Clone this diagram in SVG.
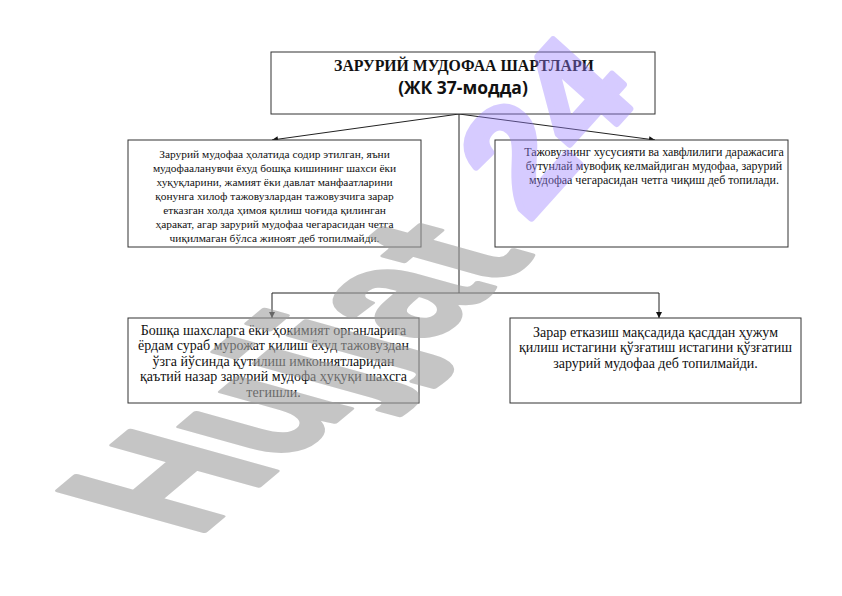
<svg xmlns="http://www.w3.org/2000/svg" width="842" height="596" viewBox="0 0 842 596">
<style>
.box{fill:#ffffff;stroke:#333333;stroke-width:1}
.t{font-family:"Liberation Serif","Times New Roman",serif;fill:#111111;text-anchor:middle}
.s1{font-size:11.4px}
.s3{font-size:12px}
.s2{font-size:14px}
.title{font-family:"Liberation Serif","Times New Roman",serif;font-weight:bold;font-size:15.8px;fill:#111;text-anchor:middle}
.sub{font-family:"Open Sans","Noto Sans",sans-serif;font-weight:bold;font-size:17.5px;fill:#111;text-anchor:middle}
.c{stroke:#222222;stroke-width:1;fill:none}
.wm{font-family:"Liberation Sans",Arial,sans-serif;font-weight:bold;stroke-linejoin:round}
.wg{fill:#a0a0a0;stroke:#a0a0a0;stroke-width:3;opacity:0.6;font-size:100px}
.wp{fill:#9a80ff;stroke:#9a80ff;stroke-width:7;opacity:0.4;font-size:150px}
</style>
<defs>
<marker id="ah" viewBox="0 0 10 10" refX="10" refY="5" markerWidth="6" markerHeight="6" orient="auto" markerUnits="userSpaceOnUse">
<path d="M0,0 L10,5 L0,10 z" fill="#111111"/>
</marker>
</defs>
<rect width="842" height="596" fill="#ffffff"/>
<g id="connectors">
<line class="c" x1="459" y1="114" x2="272" y2="140" marker-end="url(#ah)"/>
<line class="c" x1="459" y1="114" x2="655" y2="140" marker-end="url(#ah)"/>
<line class="c" x1="459" y1="114" x2="459" y2="293"/>
<line class="c" x1="272" y1="293" x2="659" y2="293"/>
<line class="c" x1="272" y1="293" x2="272" y2="318" marker-end="url(#ah)"/>
<line class="c" x1="659" y1="293" x2="659" y2="318" marker-end="url(#ah)"/>
</g>
<g id="node-top">
<rect class="box" x="271" y="52" width="384" height="62"/>
<text class="title" x="464" y="71">ЗАРУРИЙ МУДОФАА ШАРТЛАРИ</text>
<text class="sub" x="463" y="94">(ЖК 37-модда)</text>
</g>
<g id="node-left">
<rect class="box" x="128" y="140" width="293" height="107"/>
<text class="t s1" x="274.5" y="157.5">Зарурий мудофаа ҳолатида содир этилган, яъни</text>
<text class="t s1" x="274.5" y="171.5">мудофааланувчи ёхуд бошқа кишининг шахси ёки</text>
<text class="t s1" x="274.5" y="185.5">хуқуқларини, жамият ёки давлат манфаатларини</text>
<text class="t s1" x="274.5" y="200">қонунга хилоф тажовузлардан тажовузчига зарар</text>
<text class="t s1" x="274.5" y="214">етказган холда ҳимоя қилиш чоғида қилинган</text>
<text class="t s1" x="274.5" y="228">ҳаракат, агар зарурий мудофаа чегарасидан четга</text>
<text class="t s1" x="274.5" y="242">чиқилмаган бўлса жиноят деб топилмайди.</text>
</g>
<g id="node-right">
<rect class="box" x="495" y="140" width="293" height="107"/>
<text class="t s3" x="654" y="156">Тажовузнинг хусусияти ва хавфлилиги даражасига</text>
<text class="t s3" x="654" y="170">бутунлай мувофиқ келмайдиган мудофаа, зарурий</text>
<text class="t s3" x="654" y="184">мудофаа чегарасидан четга чиқиш деб топилади.</text>
</g>
<g id="node-bottom-left">
<rect class="box" x="128" y="318" width="291" height="85"/>
<text class="t s2" x="273.5" y="334.5">Бошқа шахсларга ёки ҳокимият органларига</text>
<text class="t s2" x="273.5" y="350">ёрдам сураб мурожат қилиш ёхуд тажовуздан</text>
<text class="t s2" x="273.5" y="365.5">ўзга йўсинда қутилиш имкониятларидан</text>
<text class="t s2" x="273.5" y="381">қаътий назар  зарурий мудофа ҳуқуқи шахсга</text>
<text class="t s2" x="273.5" y="397">тегишли.</text>
</g>
<g id="node-bottom-right">
<rect class="box" x="510" y="318" width="291" height="85"/>
<text class="t s2" x="655.5" y="336.5">Зарар етказиш мақсадида қасддан ҳужум</text>
<text class="t s2" x="655.5" y="352">қилиш истагини қўзғатиш истагини қўзғатиш</text>
<text class="t s2" x="655.5" y="368">зарурий мудофаа деб топилмайди.</text>
</g>
<g id="watermark">
<text class="wm wg" transform="translate(196 538) scale(2.44 1.18) rotate(-60)">Hujjat</text>
<text class="wm wp" transform="translate(528 222) rotate(-48)">24</text>
</g>
</svg>
